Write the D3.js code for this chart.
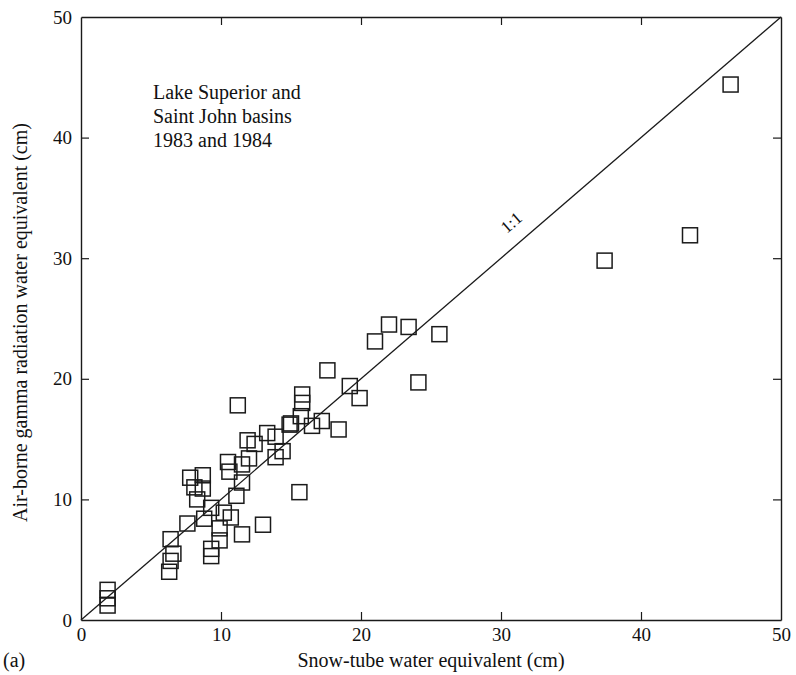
<!DOCTYPE html>
<html>
<head>
<meta charset="utf-8">
<script src="https://cdn.jsdelivr.net/npm/d3@7"></script>
<style>
  html, body { margin: 0; padding: 0; background: #fff; }
  svg text { font-family: "Liberation Serif", "DejaVu Serif", serif; fill: #111; }
</style>
</head>
<body>
<svg id="chart" width="796" height="675"></svg>
<script>
// Snow-tube water equivalent (cm)
const snowTube = [
  1.9, 1.9, 1.9, 6.4, 6.6, 6.4, 6.3, 9.3, 9.3, 9.9, 9.9, 11.5, 13.0,
  11.9, 12.4, 13.3, 13.9, 14.9, 14.4, 13.9, 10.5, 11.5, 12.0, 10.6, 11.5,
  7.8, 8.7, 8.1, 8.7, 8.3, 11.1, 9.3, 10.2, 10.7, 8.8, 7.6, 15.6, 11.2,
  17.6, 24.1, 19.2, 19.9, 15.8, 15.8, 15.7, 17.2, 15.0, 16.5, 18.4,
  21.0, 22.0, 23.4, 25.6, 37.4, 43.5, 46.4
];
// Air-borne gamma radiation water equivalent (cm)
const gamma = [
  2.5, 1.8, 1.2, 6.7, 5.5, 4.9, 4.0, 5.9, 5.3, 7.6, 6.6, 7.1, 7.9,
  14.9, 14.6, 15.5, 15.2, 16.2, 14.0, 13.5, 13.1, 12.9, 13.4, 12.3, 11.4,
  11.8, 12.0, 11.0, 10.9, 10.0, 10.3, 9.3, 8.9, 8.5, 8.4, 8.0, 10.6, 17.8,
  20.7, 19.7, 19.4, 18.4, 18.7, 18.0, 16.9, 16.5, 16.3, 16.1, 15.8,
  23.1, 24.5, 24.3, 23.7, 29.8, 31.9, 44.4
];
const tickValues = [0, 10, 20, 30, 40, 50];
const noteLines = ["Lake Superior and", "Saint John basins", "1983 and 1984"];

const svg = d3.select("#chart");
const plotL = 81, plotR = 781, plotT = 17, plotB = 620;

const x = d3.scaleLinear().domain([0, 50]).range([plotL, plotR]);
const y = d3.scaleLinear().domain([0, 50]).range([plotB, plotT]);

const ink = "#1a1a1a";
const tickLen = 8;

// Frame axes with inward ticks on all four sides
const gBottom = svg.append("g").attr("transform", `translate(0,${plotB})`)
  .call(d3.axisBottom(x).tickValues(tickValues).tickSizeInner(-tickLen).tickSizeOuter(0).tickPadding(8));
const gTop = svg.append("g").attr("transform", `translate(0,${plotT})`)
  .call(d3.axisTop(x).tickValues(tickValues).tickSizeInner(-tickLen).tickSizeOuter(0).tickFormat(""));
const gLeft = svg.append("g").attr("transform", `translate(${plotL},0)`)
  .call(d3.axisLeft(y).tickValues(tickValues).tickSizeInner(-tickLen).tickSizeOuter(0).tickPadding(9));
const gRight = svg.append("g").attr("transform", `translate(${plotR},0)`)
  .call(d3.axisRight(y).tickValues(tickValues).tickSizeInner(-tickLen).tickSizeOuter(0).tickFormat(""));

[gBottom, gTop, gLeft, gRight].forEach(g => {
  g.select(".domain").attr("stroke", ink).attr("stroke-width", 1.4);
  g.selectAll(".tick line").attr("stroke", ink).attr("stroke-width", 1.2);
  g.selectAll(".tick text").attr("font-size", 19).attr("fill", ink)
    .style("font-family", '"Liberation Serif", serif');
  // corner ticks coincide with the frame
  g.selectAll(".tick").filter(d => d === 0 || d === 50).select("line").remove();
});

// 1:1 line
svg.append("line")
  .attr("x1", x(0)).attr("y1", y(0))
  .attr("x2", x(50)).attr("y2", y(50))
  .attr("stroke", ink).attr("stroke-width", 1.3);

const angle = -Math.atan2(y(0) - y(50), x(50) - x(0)) * 180 / Math.PI;
svg.append("text")
  .attr("transform", `translate(${x(31.0)},${y(32.6)}) rotate(${angle})`)
  .attr("text-anchor", "middle")
  .attr("font-size", 17)
  .text("1:1");

// Observations as open squares
const box = 15;
svg.append("g").selectAll("rect")
  .data(snowTube.map((v, i) => [v, gamma[i]]))
  .join("rect")
  .attr("x", d => x(d[0]) - box / 2)
  .attr("y", d => y(d[1]) - box / 2)
  .attr("width", box).attr("height", box)
  .attr("fill", "none")
  .attr("stroke", ink)
  .attr("stroke-width", 1.5);

// Annotation block
svg.append("text")
  .attr("x", 153).attr("y", 99)
  .attr("font-size", 20)
  .selectAll("tspan").data(noteLines).join("tspan")
  .attr("x", 153).attr("dy", (d, i) => i === 0 ? 0 : 24)
  .text(d => d);

// Axis titles
svg.append("text")
  .attr("x", (plotL + plotR) / 2).attr("y", 667)
  .attr("text-anchor", "middle").attr("font-size", 20)
  .text("Snow-tube water equivalent (cm)");
svg.append("text")
  .attr("transform", `translate(27,${(plotT + plotB) / 2 + 4}) rotate(-90)`)
  .attr("text-anchor", "middle").attr("font-size", 20)
  .text("Air-borne gamma radiation water equivalent (cm)");
svg.append("text")
  .attr("x", 3).attr("y", 667).attr("font-size", 20)
  .text("(a)");
</script>
</body>
</html>
